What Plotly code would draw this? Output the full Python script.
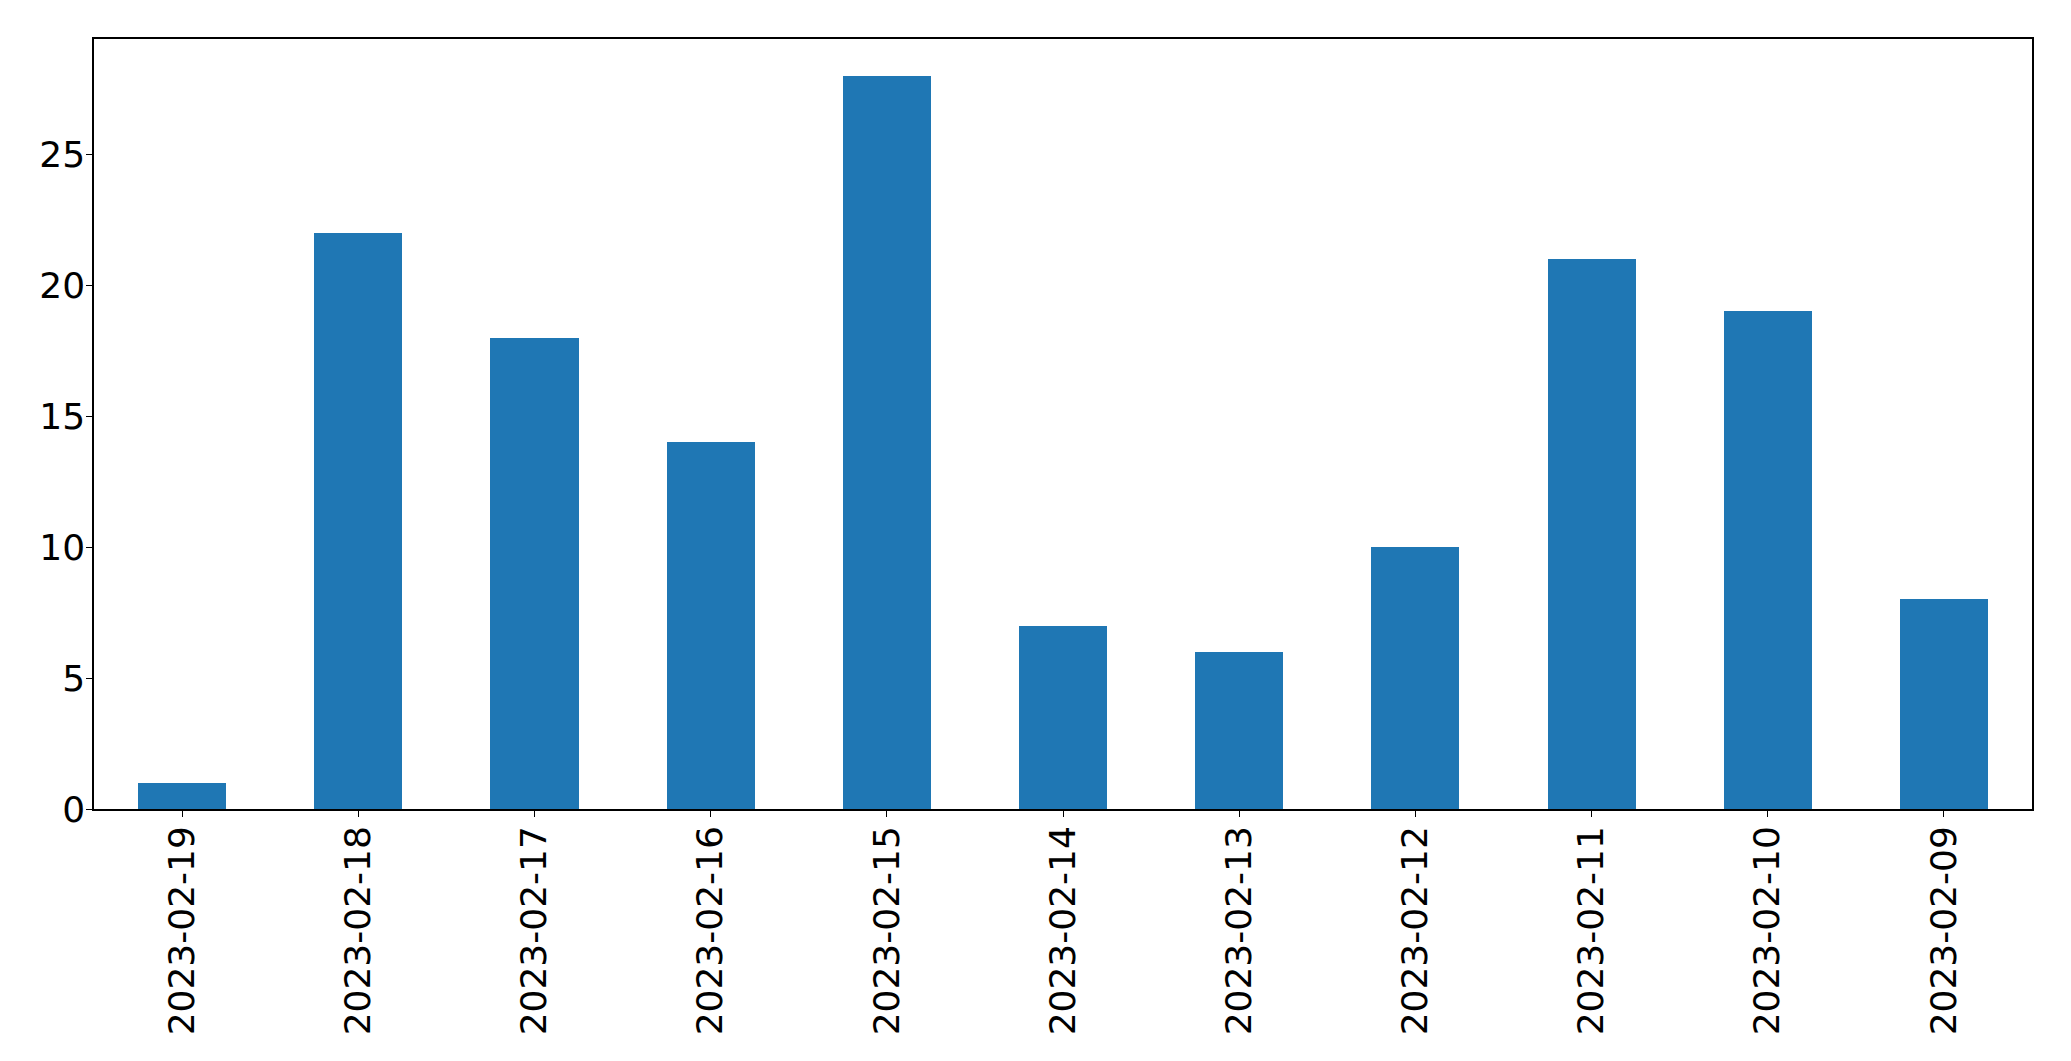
import plotly.graph_objects as go

dates = ["2023-02-19", "2023-02-18", "2023-02-17", "2023-02-16", "2023-02-15",
         "2023-02-14", "2023-02-13", "2023-02-12", "2023-02-11", "2023-02-10", "2023-02-09"]
counts = [1, 22, 18, 14, 28, 7, 6, 10, 21, 19, 8]
y_ticks = [0, 5, 10, 15, 20, 25]

fig = go.Figure(go.Bar(x=dates, y=counts, width=0.5, marker=dict(color="#1f77b4", line=dict(width=0))))

font = dict(family="DejaVu Sans", size=36, color="black")
fig.update_layout(
    width=2063, height=1053,
    margin=dict(l=86, r=39, t=31, b=252, autoexpand=False),
    plot_bgcolor="white", paper_bgcolor="white",
    font=font, showlegend=False,
    bargap=0,
)
fig.update_xaxes(type="category", range=[-0.5, 10.5], showline=True, linecolor="black", linewidth=1.5,
                 mirror=True, ticks="outside", ticklen=6, tickcolor="black", tickangle=-90,
                 showgrid=False, tickfont=font, automargin=False, ticklabelstandoff=-5)
fig.update_yaxes(range=[0, 29.4], tickvals=y_ticks, showline=True, linecolor="black", linewidth=1.5,
                 mirror=True, ticks="outside", ticklen=6, tickcolor="black", showgrid=False,
                 zeroline=False, tickfont=font, automargin=False, ticklabelstandoff=-6)

fig.write_html("out.html")
